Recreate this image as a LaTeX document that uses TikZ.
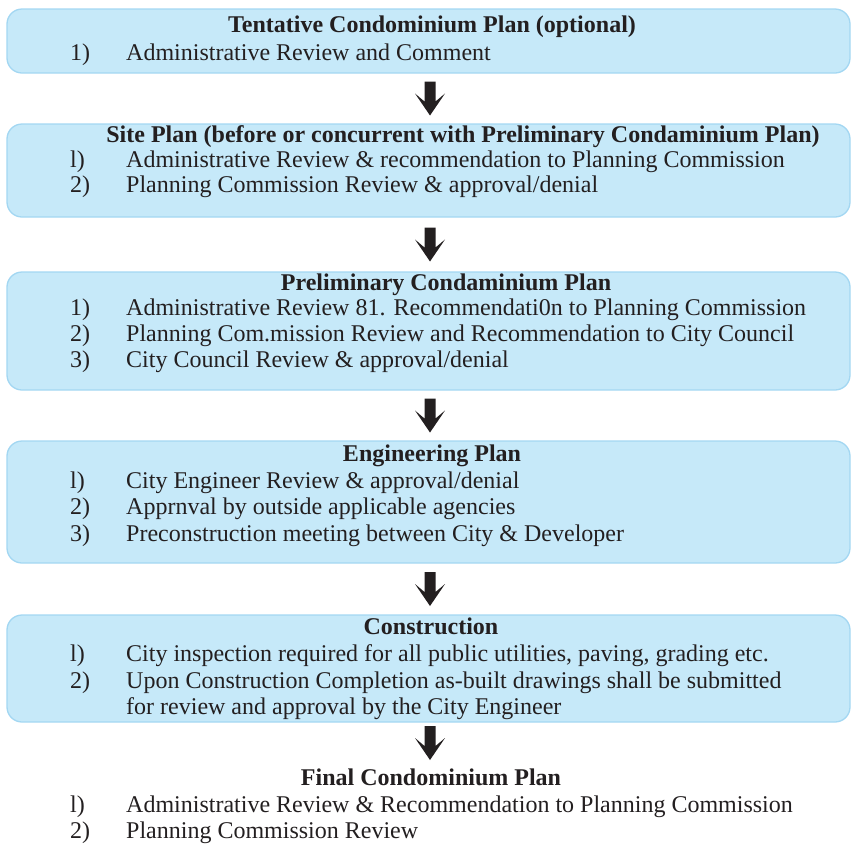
\documentclass[tikz,border=0pt]{standalone}
\usepackage{fontspec}
\setmainfont{Liberation Serif}
\usetikzlibrary{calc}
\definecolor{boxfill}{HTML}{C6E9F9}
\definecolor{boxline}{HTML}{A3D7F2}
\definecolor{ink}{HTML}{231F20}
\tikzset{
  box/.style={draw=boxline, fill=boxfill, line width=1.3pt, rounded corners=15pt,
    anchor=north west, inner sep=0pt, outer sep=0pt, minimum width=843pt},
  txt/.style={anchor=base west, inner sep=0pt, text=ink, font=\fontsize{24}{25}\selectfont},
  ttl/.style={anchor=base, inner sep=0pt, text=ink, font=\fontsize{24}{25}\selectfont\bfseries},
  downarrow/.pic={\fill[ink] (-5.5,-17) -- (5.5,-17) -- (5.5,3) -- (15,-5) -- (0,17) -- (-15,-5) -- (-5.5,3) -- cycle;}
}
\begin{document}
\begin{tikzpicture}[x=1pt,y=-1pt]
\useasboundingbox (0,0) rectangle (851,847);
% boxes
\node[box, minimum height=64pt]  (b1) at (7,9) {};
\node[box, minimum height=93pt]  (b2) at (7,124) {};
\node[box, minimum height=118pt] (b3) at (7,272) {};
\node[box, minimum height=122pt] (b4) at (7,441) {};
\node[box, minimum height=107pt] (b5) at (7,615) {};
\coordinate (fin) at (428.5,764);
% box 1
\node[ttl] (t1) at (432,32) {Tentative Condominium Plan (optional)};
\node[txt] (n11) at (70,60) {1)};
\node[txt] (l11) at (126,60) {Administrative Review and Comment};
% box 2
\node[ttl] (t2) at (463,142) {Site Plan (before or concurrent with Preliminary Condaminium Plan)};
\node[txt] (n21) at (70,167) {l)};
\node[txt] (l21) at (126,167) {Administrative Review \& recommendation to Planning Commission};
\node[txt] (n22) at (70,192) {2)};
\node[txt] (l22) at (126,192) {Planning Commission Review \& approval/denial};
% box 3
\node[ttl] (t3) at (446,290) {Preliminary Condaminium Plan};
\node[txt] (n31) at (70,315) {1)};
\node[txt] (l31) at (126,315) {Administrative Review 81. Recommendati0n to Planning Commission};
\node[txt] (n32) at (70,341) {2)};
\node[txt] (l32) at (126,341) {Planning Com.mission Review and Recommendation to City Council};
\node[txt] (n33) at (70,367) {3)};
\node[txt] (l33) at (126,367) {City Council Review \& approval/denial};
% box 4
\node[ttl] (t4) at (432,461) {Engineering Plan};
\node[txt] (n41) at (70,488) {l)};
\node[txt] (l41) at (126,488) {City Engineer Review \& approval/denial};
\node[txt] (n42) at (70,514) {2)};
\node[txt] (l42) at (126,514) {Apprnval by outside applicable agencies};
\node[txt] (n43) at (70,541) {3)};
\node[txt] (l43) at (126,541) {Preconstruction meeting between City \& Developer};
% box 5
\node[ttl] (t5) at (431,634) {Construction};
\node[txt] (n51) at (70,661) {l)};
\node[txt] (l51) at (126,661) {City inspection required for all public utilities, paving, grading etc.};
\node[txt] (n52) at (70,688) {2)};
\node[txt] (l52) at (126,688) {Upon Construction Completion as-built drawings shall be submitted};
\node[txt] (l53) at (126,714) {for review and approval by the City Engineer};
% final
\node[ttl] (t6) at (431,785) {Final Condominium Plan};
\node[txt] (n61) at (70,812) {l)};
\node[txt] (l61) at (126,812) {Administrative Review \& Recommendation to Planning Commission};
\node[txt] (n62) at (70,838) {2)};
\node[txt] (l62) at (126,838) {Planning Commission Review};
% arrows
\pic at ($(b1.south)!0.5!(b2.north)+(1.5,0)$) {downarrow};
\pic at ($(b2.south)!0.5!(b3.north)+(1.5,0)$) {downarrow};
\pic at ($(b3.south)!0.5!(b4.north)+(1.5,0)$) {downarrow};
\pic at ($(b4.south)!0.5!(b5.north)+(1.5,0)$) {downarrow};
\pic at ($(b5.south)!0.5!(fin)+(1.5,0)$) {downarrow};
\end{tikzpicture}
\end{document}
